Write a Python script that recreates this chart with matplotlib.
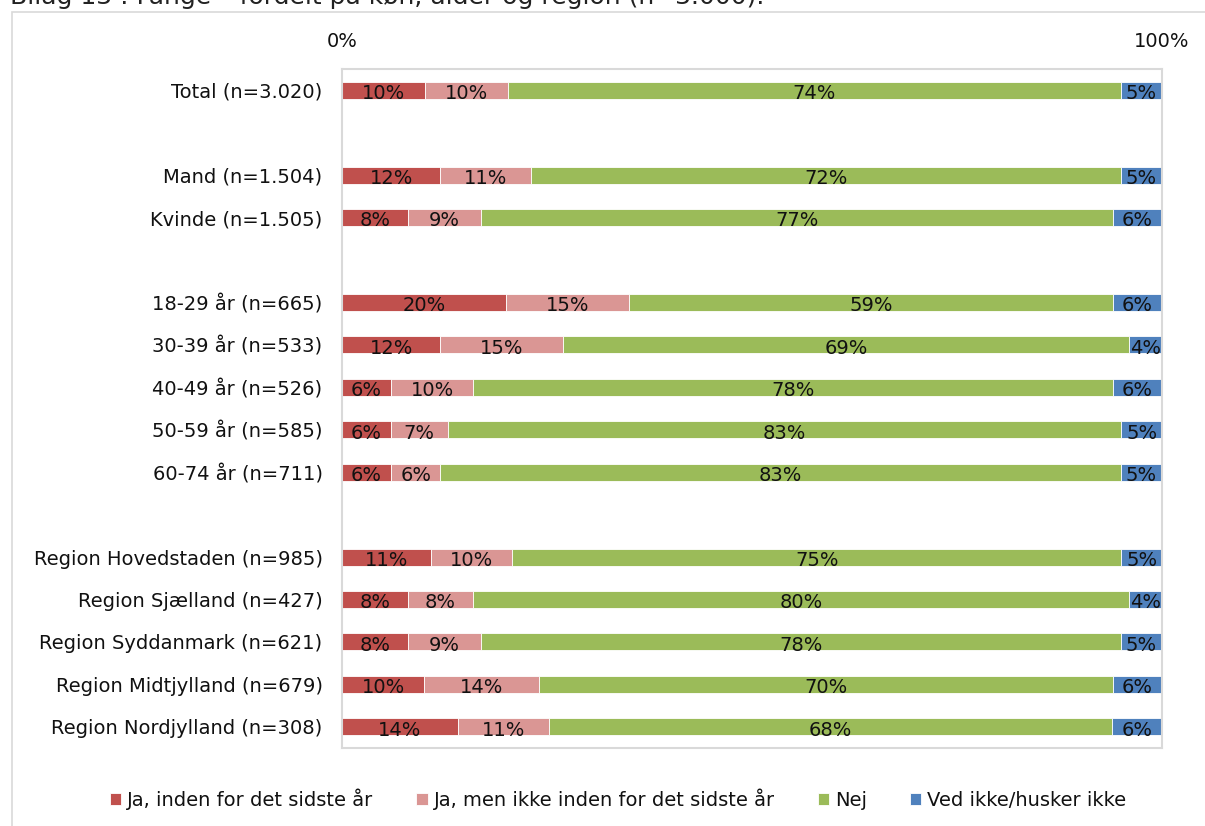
import numpy as np
import matplotlib.pyplot as plt
from matplotlib.patches import Rectangle

plt.rcParams['font.family'] = ['DejaVu Sans']

# rows, top to bottom; None = blank spacer row
categories = ["Total (n=3.020)", None,
              "Mand (n=1.504)", "Kvinde (n=1.505)", None,
              "18-29 år (n=665)", "30-39 år (n=533)", "40-49 år (n=526)",
              "50-59 år (n=585)", "60-74 år (n=711)", None,
              "Region Hovedstaden (n=985)", "Region Sjælland (n=427)",
              "Region Syddanmark (n=621)", "Region Midtjylland (n=679)",
              "Region Nordjylland (n=308)"]

ja_sidste_aar = [10, None, 12, 8, None, 20, 12, 6, 6, 6, None, 11, 8, 8, 10, 14]
ja_ikke_sidste = [10, None, 11, 9, None, 15, 15, 10, 7, 6, None, 10, 8, 9, 14, 11]
nej = [74, None, 72, 77, None, 59, 69, 78, 83, 83, None, 75, 80, 78, 70, 68]
ved_ikke = [5, None, 5, 6, None, 6, 4, 6, 5, 5, None, 5, 4, 5, 6, 6]

series = ["Ja, inden for det sidste år", "Ja, men ikke inden for det sidste år",
          "Nej", "Ved ikke/husker ikke"]
colors = ["#C0504D", "#DA9694", "#9BBB59", "#4F81BD"]

W, H = 1205, 826
fig = plt.figure(figsize=(W / 100, H / 100), dpi=100)

# outer chart frame and cut-off caption
fig.patches.append(Rectangle((12 / W, -0.1), 1.2, 1.1 - 12 / H, transform=fig.transFigure,
                             fill=False, edgecolor="#D9D9D9", linewidth=1.2))
fig.text(10 / W, 1 - 4 / H, "Bilag 13 : Fange – fordelt på køn, alder og region (n=3.000).",
         fontsize=18, va="baseline", ha="left", color="#222222")

ax = fig.add_axes([342 / W, 1 - 748 / H, 820 / W, 679 / H])

y = np.arange(len(categories))
data = [np.array([0 if x is None else x for x in vals], dtype=float)
        for vals in [ja_sidste_aar, ja_ikke_sidste, nej, ved_ikke]]
tot = sum(data)
tot[tot == 0] = 1
left = np.zeros(len(categories))
for raw, v, col, name in zip([ja_sidste_aar, ja_ikke_sidste, nej, ved_ikke],
                             data, colors, series):
    w = v / tot * 100
    ax.barh(y, w, left=left, height=0.4, color=col, edgecolor="white",
            linewidth=0.6, label=name)
    for yi, (val, l, wi) in enumerate(zip(raw, left, w)):
        if val is not None:
            ax.text(l + wi / 2, yi + 0.08, f"{val}%", ha="center", va="center",
                    fontsize=14, color="#111111")
    left += w

ax.set_xlim(0, 100)
ax.set_ylim(len(categories) - 0.5, -0.5)
ax.set_yticks([i for i, c in enumerate(categories) if c])
ax.set_yticklabels([c for c in categories if c], fontsize=14, color="#111111")
ax.tick_params(axis="y", length=0, pad=14)
ax.xaxis.tick_top()
ax.set_xticks([0, 100])
ax.set_xticklabels(["0%", "100%"], fontsize=14, color="#111111")
ax.tick_params(axis="x", length=0, pad=13)
for s in ax.spines.values():
    s.set_color("#D9D9D9")
    s.set_linewidth(1.5)

handles, labels = ax.get_legend_handles_labels()
fig.legend(handles, labels, loc="center", bbox_to_anchor=(618 / W, 1 - 799 / H),
           ncol=4, frameon=False, fontsize=14, handlelength=0.6, handleheight=0.6,
           handletextpad=0.3, columnspacing=2.2, labelcolor="#111111")

fig.savefig("out.png", dpi=100)
